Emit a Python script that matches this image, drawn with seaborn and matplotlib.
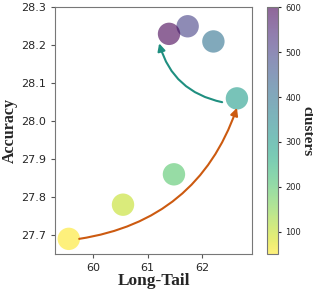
import matplotlib
matplotlib.use("Agg")
import matplotlib.pyplot as plt
import seaborn as sns
import pandas as pd
import numpy as np

long_tail = [59.56, 60.55, 61.48, 62.63, 62.20, 61.73, 61.39]
accuracy = [27.69, 27.78, 27.86, 28.06, 28.21, 28.25, 28.23]
clusters = [50, 100, 200, 300, 400, 500, 600]

df = pd.DataFrame({"Long-Tail": long_tail, "Accuracy": accuracy, "clusters": clusters})

sns.set_style("ticks")
fig = plt.figure(figsize=(3.13, 2.91), dpi=100)
ax = fig.add_axes([0.176, 0.127, 0.63, 0.848])
cax = fig.add_axes([0.853, 0.127, 0.035, 0.848])

cmap = plt.get_cmap("viridis_r")
norm = matplotlib.colors.Normalize(vmin=50, vmax=600)
sns.scatterplot(data=df, x="Long-Tail", y="Accuracy", hue="clusters", palette=cmap,
                hue_norm=norm, s=260, alpha=0.6, edgecolor="none", legend=False, ax=ax)

ax.set_xlim(59.31, 62.91)
ax.set_ylim(27.65, 28.3)
ax.set_xticks([60, 61, 62])
ax.set_yticks([27.7, 27.8, 27.9, 28.0, 28.1, 28.2, 28.3])
ax.set_yticklabels(["27.7", "27.8", "27.9", "28.0", "28.1", "28.2", "28.3"])
ax.tick_params(labelsize=8, length=3, color="#555555")
for sp in ax.spines.values():
    sp.set_color("#777777")
ax.set_xlabel("Long-Tail", fontfamily="Liberation Serif", fontweight="bold", fontsize=12.5, labelpad=0)
ax.set_ylabel("Accuracy", fontfamily="Liberation Serif", fontweight="bold", fontsize=11.5, labelpad=2)

ax.annotate("", xy=(62.63, 28.035), xytext=(59.75, 27.69),
            arrowprops=dict(arrowstyle="-|>", color="#cc5a10", lw=1.5, mutation_scale=11,
                            connectionstyle="arc3,rad=0.3", shrinkA=0, shrinkB=0))
ax.annotate("", xy=(61.21, 28.205), xytext=(62.36, 28.05),
            arrowprops=dict(arrowstyle="-|>", color="#1f8f80", lw=1.5, mutation_scale=11,
                            connectionstyle="arc3,rad=-0.3", shrinkA=0, shrinkB=0))

sm = matplotlib.cm.ScalarMappable(norm=norm, cmap=cmap)
sm.set_array([])
cb = fig.colorbar(sm, cax=cax, alpha=0.6)
cb.set_ticks([100, 200, 300, 400, 500, 600])
cb.ax.tick_params(labelsize=6, length=2)
cb.outline.set_edgecolor("#777777")
cb.set_label("clusters", fontfamily="Liberation Serif", fontweight="bold", fontsize=11,
             rotation=270, labelpad=9)

fig.savefig("out.png", dpi=100)
